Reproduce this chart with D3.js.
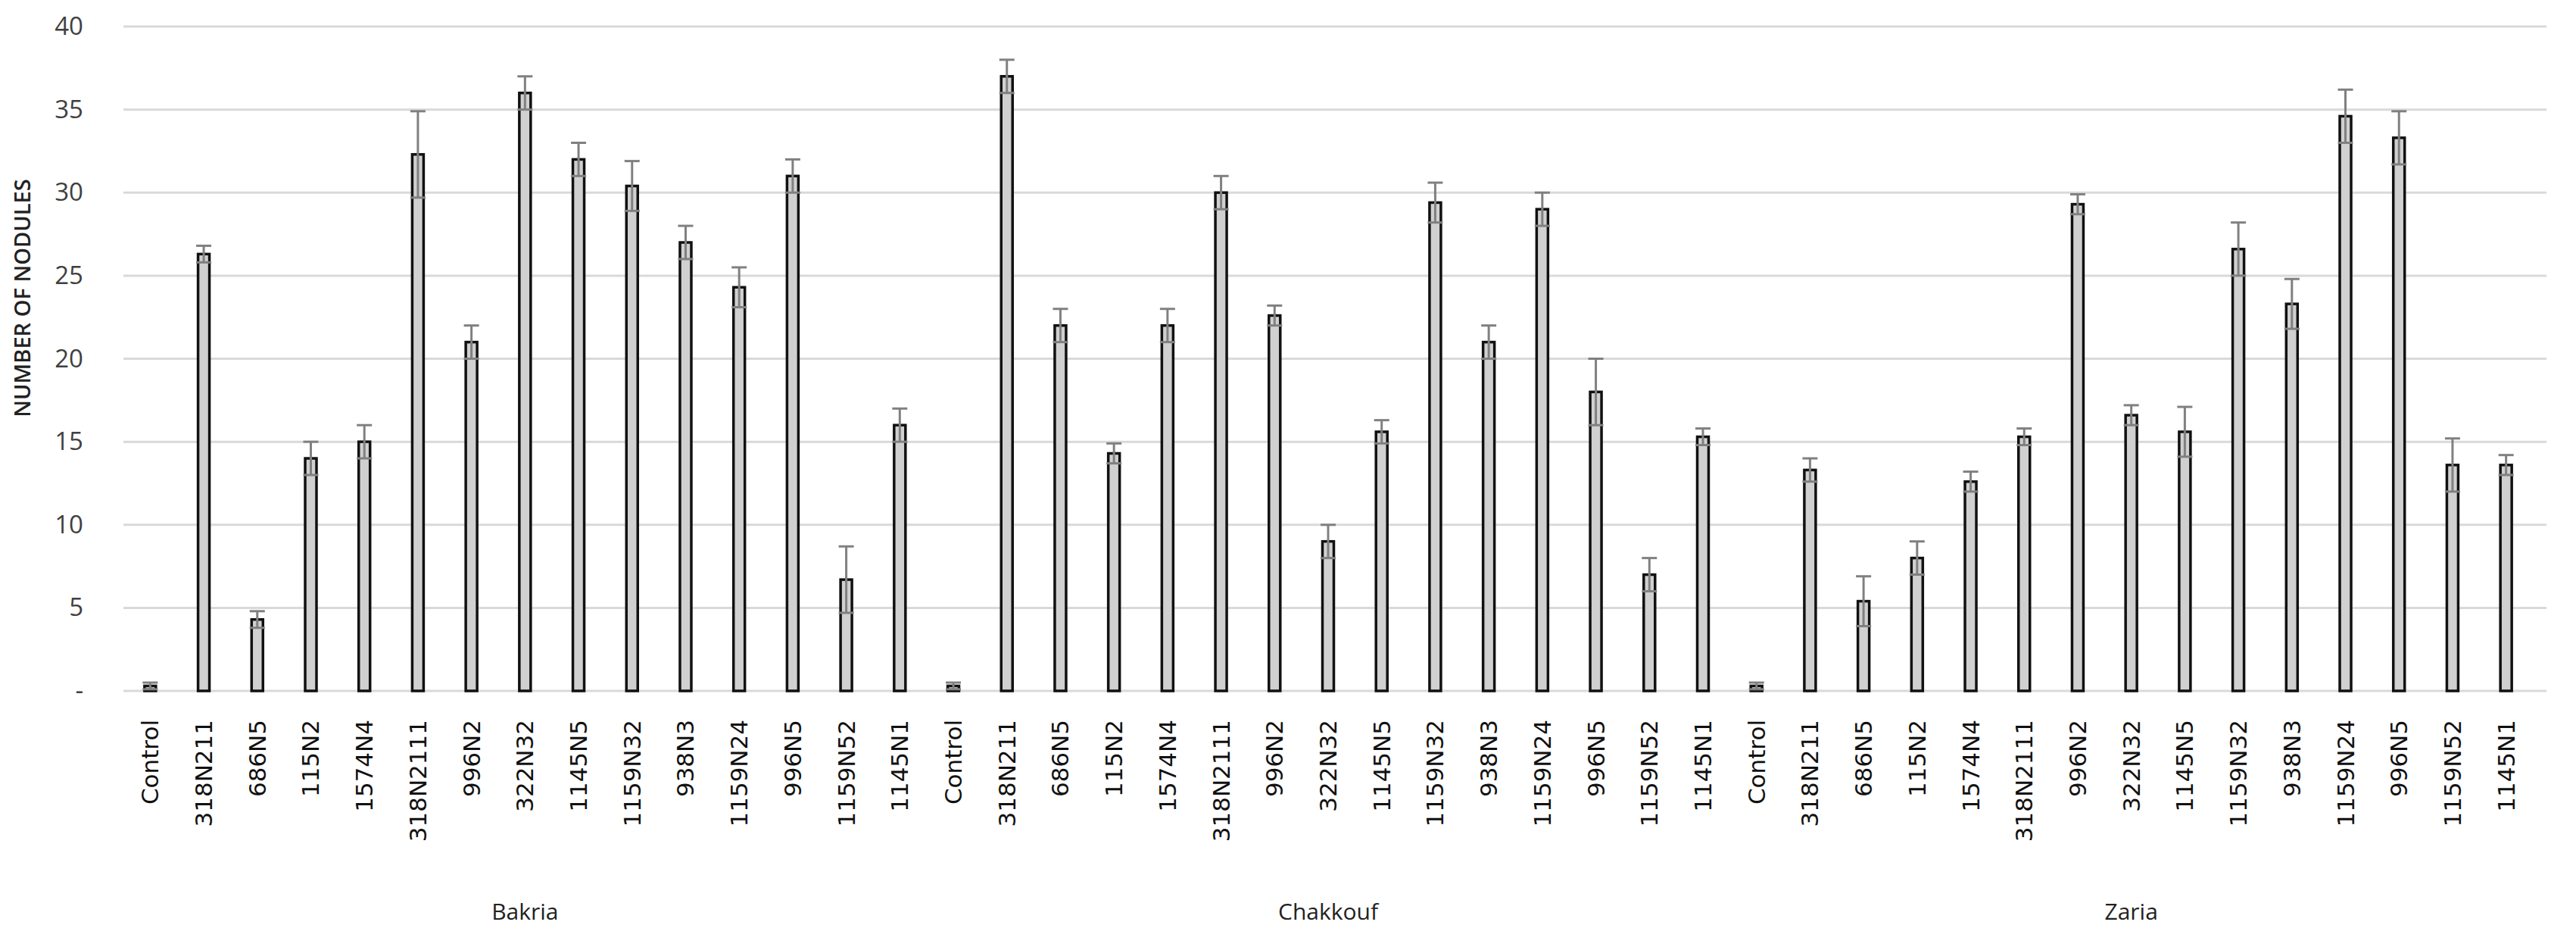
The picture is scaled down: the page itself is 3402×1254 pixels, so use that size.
<!DOCTYPE html>
<html><head><meta charset="utf-8">
<script src="https://cdn.jsdelivr.net/npm/d3@7"></script>
<style>body{margin:0;background:#fff}</style></head>
<body><svg id="c" width="3402" height="1254"></svg>
<script>
const groups = ["Bakria","Chakkouf","Zaria"];
const strains = ["Control","318N211","686N5","115N2","1574N4","318N2111","996N2","322N32","1145N5","1159N32","938N3","1159N24","996N5","1159N52","1145N1"];
const bakriaVals = [0.3,26.3,4.3,14,15,32.3,21,36,32,30.4,27,24.3,31,6.7,16];
const bakriaErr  = [0.2,0.5,0.5,1,1,2.6,1,1,1,1.5,1,1.2,1,2,1];
const chakkoufVals = [0.3,37,22,14.3,22,30,22.6,9,15.6,29.4,21,29,18,7,15.3];
const chakkoufErr  = [0.2,1,1,0.6,1,1,0.6,1,0.7,1.2,1,1,2,1,0.5];
const zariaVals = [0.3,13.3,5.4,8,12.6,15.3,29.3,16.6,15.6,26.6,23.3,34.6,33.3,13.6,13.6];
const zariaErr  = [0.2,0.7,1.5,1,0.6,0.5,0.6,0.6,1.5,1.6,1.5,1.6,1.6,1.6,0.6];
const yTicks = [0,5,10,15,20,25,30,35,40];

const vals=[bakriaVals,chakkoufVals,zariaVals], errs=[bakriaErr,chakkoufErr,zariaErr];
const data=[];
groups.forEach((g,gi)=>strains.forEach((s,i)=>data.push({key:gi+"_"+i,g,s,v:vals[gi][i],e:errs[gi][i]})));

const svg=d3.select("#c");
const pLeft=163,pRight=3345,pTop=35,pBottom=912;
const x=d3.scaleBand().domain(data.map(d=>d.key)).range([pLeft,pRight]);
const y=d3.scaleLinear().domain([0,40]).range([pBottom,pTop]);
const font="'DejaVu Sans', sans-serif";

svg.append("g").selectAll("line").data(yTicks).join("line")
 .attr("x1",pLeft).attr("x2",3363).attr("y1",d=>y(d)).attr("y2",d=>y(d))
 .attr("stroke","#d9d9d9").attr("stroke-width",3);
const ya=svg.append("g").attr("transform",`translate(${pLeft-50},0)`)
 .call(d3.axisLeft(y).tickValues(yTicks).tickSize(0).tickFormat(d=>d===0?"-":d));
ya.select(".domain").remove();
ya.selectAll("text").attr("font-family","'Open Sans', sans-serif").attr("font-size",33).attr("fill","#404040");
svg.append("text").attr("transform",`translate(40,${(pTop+pBottom)/2-80}) rotate(-90)`)
 .attr("text-anchor","middle").attr("font-family","'Open Sans', sans-serif").attr("font-size",29).attr("font-weight",600).attr("fill","#222")
 .text("NUMBER OF NODULES");

const bw=15;
svg.append("g").selectAll("rect").data(data).join("rect")
 .attr("x",d=>x(d.key)+x.bandwidth()/2-bw/2).attr("width",bw)
 .attr("y",d=>y(d.v)).attr("height",d=>pBottom-y(d.v))
 .attr("fill","#d0d0d0").attr("stroke","#111").attr("stroke-width",3.5);

const eg=svg.append("g").attr("stroke","#808080").attr("stroke-width",3);
data.forEach(d=>{
 const cx=x(d.key)+x.bandwidth()/2;
 eg.append("line").attr("x1",cx).attr("x2",cx).attr("y1",y(d.v+d.e)).attr("y2",y(Math.max(0,d.v-d.e)));
 [d.v+d.e,Math.max(0,d.v-d.e)].forEach(t=>eg.append("line").attr("x1",cx-10).attr("x2",cx+10).attr("y1",y(t)).attr("y2",y(t)));
});

svg.append("g").selectAll("text").data(data).join("text")
 .attr("transform",d=>`translate(${x(d.key)+x.bandwidth()/2+11},950) rotate(-90)`)
 .attr("text-anchor","end").attr("font-family",font).attr("font-size",31).attr("fill","#111").text(d=>d.s);

svg.append("g").selectAll("text").data(groups).join("text")
 .attr("x",g=>{const k=data.filter(d=>d.g===g);return (x(k[0].key)+x(k[k.length-1].key)+x.bandwidth())/2;})
 .attr("y",1214).attr("text-anchor","middle").attr("font-family","'Open Sans', sans-serif").attr("font-size",30).attr("fill","#222").text(g=>g);
</script></body></html>
